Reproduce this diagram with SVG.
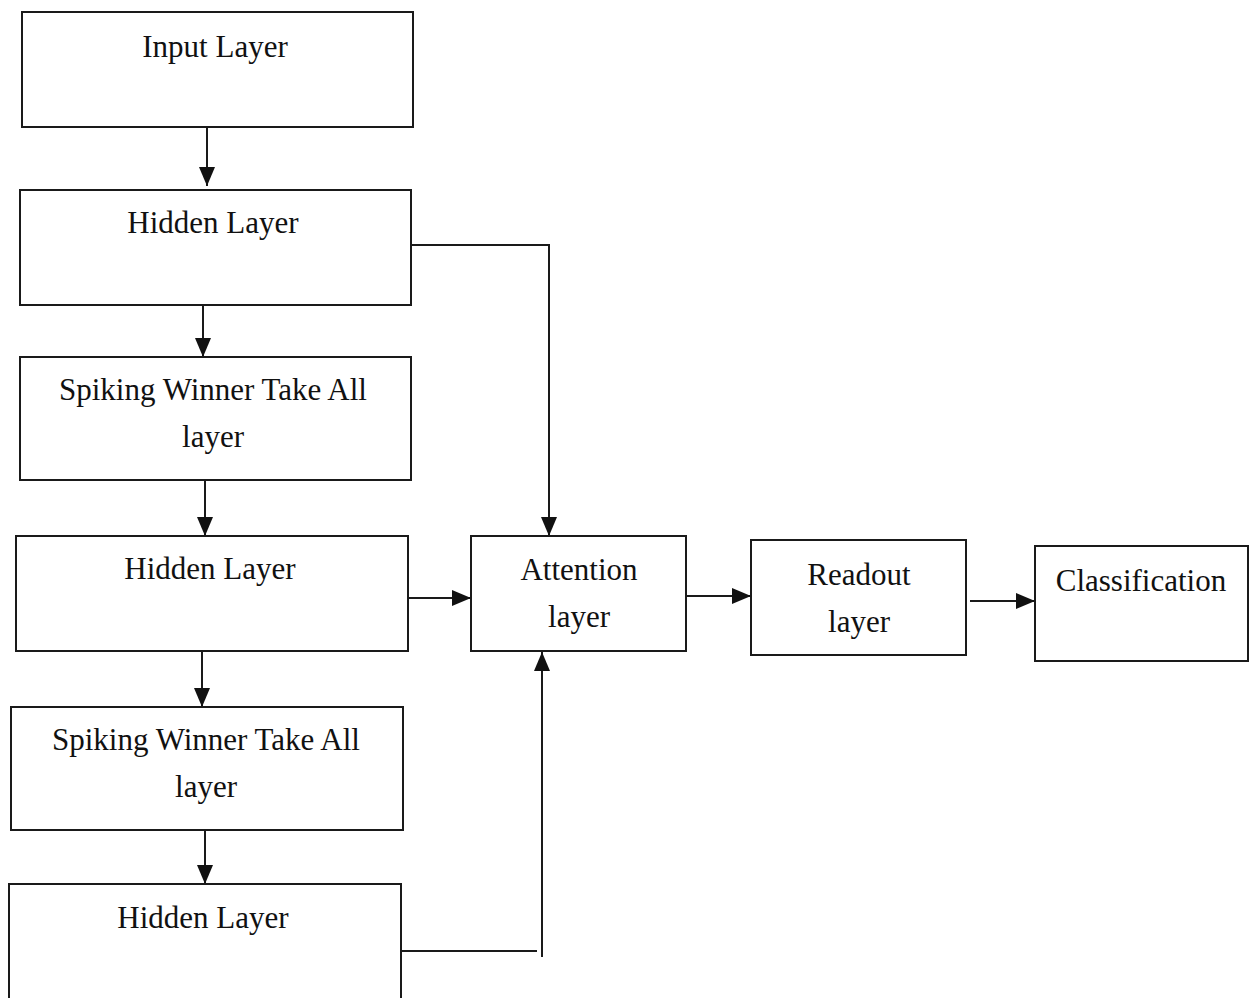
<svg xmlns="http://www.w3.org/2000/svg" width="1249" height="998" viewBox="0 0 1249 998">
<style>
.box{fill:#fff;stroke:#1a1a1a;stroke-width:2}
.lbl{font-family:"Liberation Serif","DejaVu Serif",serif;font-size:31px;fill:#111;text-anchor:middle}
.con{fill:none;stroke:#1a1a1a;stroke-width:2}
</style>
<defs>
<marker id="ah" markerUnits="userSpaceOnUse" markerWidth="19" markerHeight="16" refX="19" refY="8" orient="auto">
<path d="M0,0 L19,8 L0,16 z" fill="#111"/>
</marker>
</defs>
<rect width="1249" height="998" fill="#fff"/>
<g id="connectors">
<line class="con" x1="207" y1="127" x2="207" y2="186" marker-end="url(#ah)"/>
<line class="con" x1="203" y1="305" x2="203" y2="357" marker-end="url(#ah)"/>
<line class="con" x1="205" y1="480" x2="205" y2="536" marker-end="url(#ah)"/>
<line class="con" x1="202" y1="651" x2="202" y2="707" marker-end="url(#ah)"/>
<line class="con" x1="205" y1="830" x2="205" y2="884" marker-end="url(#ah)"/>
<polyline class="con" points="411,245 549,245 549,536" marker-end="url(#ah)"/>
<line class="con" x1="408" y1="598" x2="471" y2="598" marker-end="url(#ah)"/>
<line class="con" x1="401" y1="951" x2="537" y2="951"/>
<line class="con" x1="542" y1="957" x2="542" y2="652" marker-end="url(#ah)"/>
<line class="con" x1="686" y1="596" x2="751" y2="596" marker-end="url(#ah)"/>
<line class="con" x1="970" y1="601" x2="1035" y2="601" marker-end="url(#ah)"/>
</g>
<g id="input">
<rect class="box" x="22" y="12" width="391" height="115"/>
<text class="lbl" x="215" y="57">Input Layer</text>
</g>
<g id="hidden1">
<rect class="box" x="20" y="190" width="391" height="115"/>
<text class="lbl" x="213" y="233">Hidden Layer</text>
</g>
<g id="swta1">
<rect class="box" x="20" y="357" width="391" height="123"/>
<text class="lbl" x="213" y="400">Spiking Winner Take All</text>
<text class="lbl" x="213" y="447">layer</text>
</g>
<g id="hidden2">
<rect class="box" x="16" y="536" width="392" height="115"/>
<text class="lbl" x="210" y="579">Hidden Layer</text>
</g>
<g id="swta2">
<rect class="box" x="11" y="707" width="392" height="123"/>
<text class="lbl" x="206" y="750">Spiking Winner Take All</text>
<text class="lbl" x="206" y="797">layer</text>
</g>
<g id="hidden3">
<rect class="box" x="9" y="884" width="392" height="130"/>
<text class="lbl" x="203" y="928">Hidden Layer</text>
</g>
<g id="attention">
<rect class="box" x="471" y="536" width="215" height="115"/>
<text class="lbl" x="579" y="580">Attention</text>
<text class="lbl" x="579" y="627">layer</text>
</g>
<g id="readout">
<rect class="box" x="751" y="540" width="215" height="115"/>
<text class="lbl" x="859" y="585">Readout</text>
<text class="lbl" x="859" y="632">layer</text>
</g>
<g id="classification">
<rect class="box" x="1035" y="546" width="213" height="115"/>
<text class="lbl" x="1141" y="591">Classification</text>
</g>
</svg>
